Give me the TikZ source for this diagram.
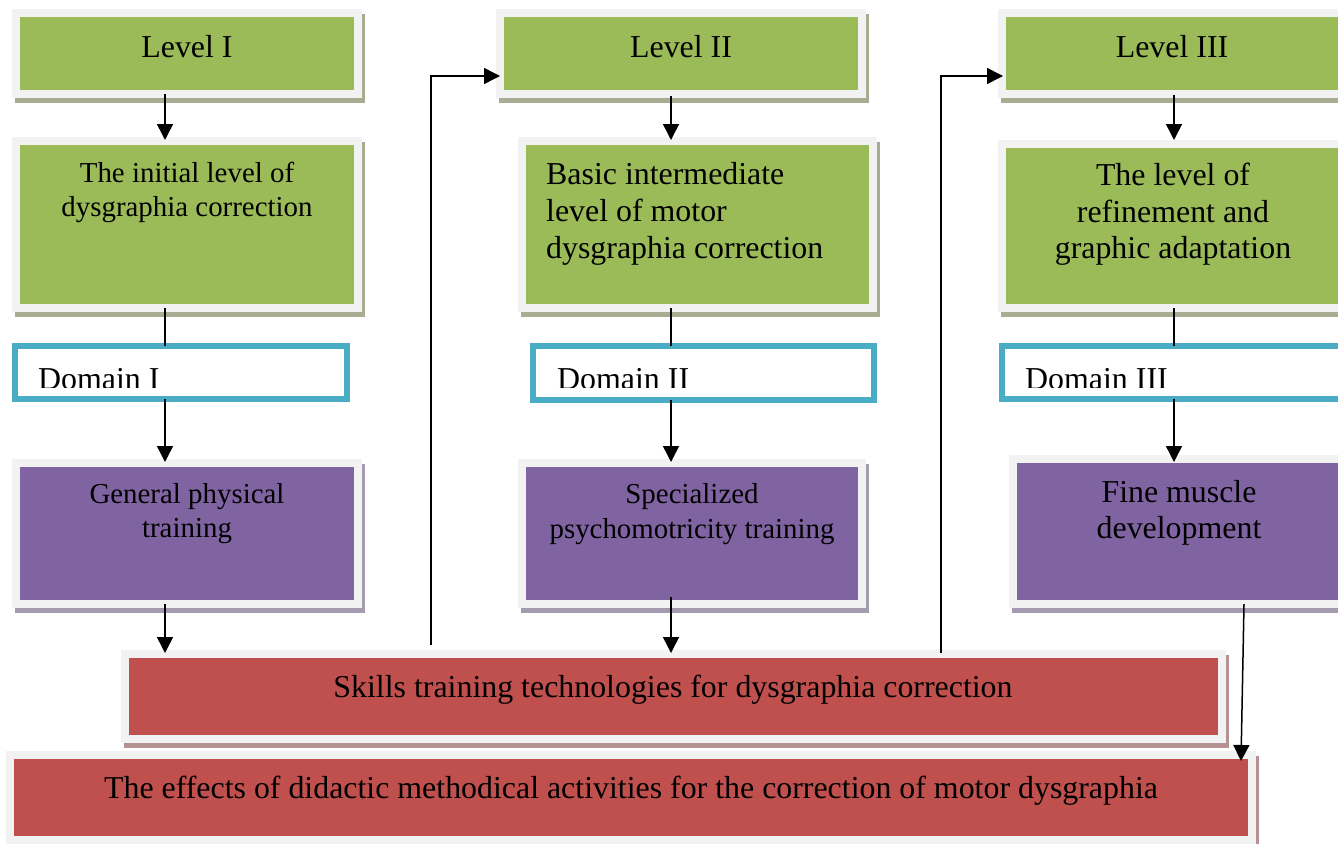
\documentclass[tikz,border=0pt]{standalone}
\usepackage{fontspec}
\setmainfont{Liberation Serif}
\usetikzlibrary{fit,arrows.meta}
\definecolor{gfill}{HTML}{9BBB59}
\definecolor{gshad}{HTML}{A6AD92}
\definecolor{pfill}{HTML}{8064A2}
\definecolor{pshad}{HTML}{A49BB0}
\definecolor{rfill}{HTML}{C0504D}
\definecolor{rshad}{HTML}{B59292}
\definecolor{cyanb}{HTML}{4BACC6}
\definecolor{framegray}{HTML}{F2F2F2}
\newcommand\mkbox[7]{%
  \fill[#7] (#2-5,#3-3) rectangle (#4+11,#5+13);
  \fill[framegray] (#2-8,#3-8) rectangle (#4+8,#5+8);
  \node[fit={(#2,#3) (#4,#5)}, inner sep=0pt, outer sep=0pt, fill=#6] (#1) {};
}
\tikzset{
  big/.style={inner sep=0pt, anchor=base, font=\fontsize{32}{37}\selectfont},
  small/.style={inner sep=0pt, anchor=base, font=\fontsize{29}{34}\selectfont},
  domtxt/.style={inner sep=0pt, anchor=base west, font=\fontsize{32}{37}\selectfont},
  dombox/.style={inner sep=0pt, outer sep=0pt, draw=cyanb, line width=6bp, fill=white},
  arr/.style={line width=1.5bp, -{Triangle[length=16bp,width=16bp]}},
  ln/.style={line width=1.5bp},
}
\begin{document}
\begin{tikzpicture}[x=1bp,y=-1bp]
\useasboundingbox (0,0) rectangle (1338,843);
\fill[white] (0,0) rectangle (1338,843);
% column x coordinates
\coordinate (c1) at (165,0);
\coordinate (c2) at (671,0);
\coordinate (c3) at (1174,0);
\coordinate (xa) at (431,0);
\coordinate (xb) at (941,0);
\coordinate (ya) at (0,76);
% level boxes
\mkbox{L1}{20}{17}{354}{90}{gfill}{gshad}
\mkbox{L2}{504}{17}{858}{90}{gfill}{gshad}
\mkbox{L3}{1006}{17}{1360}{90}{gfill}{gshad}
% second row
\mkbox{B1}{20}{145}{354}{304}{gfill}{gshad}
\mkbox{B2}{526}{145}{869}{304}{gfill}{gshad}
\mkbox{B3}{1006}{148}{1360}{304}{gfill}{gshad}
% domains
\node[dombox, fit={(15,346) (347,399)}] (D1) {};
\node[dombox, fit={(533,346) (874,400)}] (D2) {};
\node[dombox, fit={(1002,346) (1360,399)}] (D3) {};
% third row
\mkbox{P1}{20}{467}{354}{600}{pfill}{pshad}
\mkbox{P2}{526}{467}{858}{600}{pfill}{pshad}
\mkbox{P3}{1017}{463}{1360}{600}{pfill}{pshad}
% bottom boxes
\mkbox{S}{129}{658}{1218}{735}{rfill}{rshad}
\mkbox{E}{14}{759}{1248}{836}{rfill}{rshad}
% texts
\node[big] (t1) at (187,57) {Level I};
\node[big] (t2) at (681,57) {Level II};
\node[big] (t3) at (1172,57) {Level III};
\node[small] (b1a) at (187,182) {The initial level of};
\node[small] (b1b) at (187,216) {dysgraphia correction};
\node[big, anchor=base west] (b2a) at (546,184) {Basic intermediate};
\node[big, anchor=base west] (b2b) at (546,221) {level of motor};
\node[big, anchor=base west] (b2c) at (546,258) {dysgraphia correction};
\node[big] (b3a) at (1173,185) {The level of};
\node[big] (b3b) at (1173,222) {refinement and};
\node[big] (b3c) at (1173,258) {graphic adaptation};
\begin{scope}
\clip (12,343) rectangle (350,387);
\node[domtxt] (d1) at (38,389) {Domain I};
\end{scope}
\begin{scope}
\clip (530,343) rectangle (877,387);
\node[domtxt] (d2) at (557,389) {Domain II};
\end{scope}
\begin{scope}
\clip (999,343) rectangle (1338,387);
\node[domtxt] (d3) at (1025,389) {Domain III};
\end{scope}
\node[small] (p1a) at (187,503) {General physical};
\node[small] (p1b) at (187,537) {training};
\node[small] (p2a) at (692,503) {Specialized};
\node[small] (p2b) at (692,538) {psychomotricity training};
\node[big] (p3a) at (1179,502) {Fine muscle};
\node[big] (p3b) at (1179,538) {development};
\node[big] (st) at (673,697) {Skills training technologies for dysgraphia correction};
\node[big] (et) at (631,798) {The effects of didactic methodical activities for the correction of motor dysgraphia};
% connectors column 1
\draw[arr, shorten <=4bp, shorten >=5bp] (L1.south -| c1) -- (B1.north -| c1);
\draw[ln, shorten <=4bp] (B1.south -| c1) -- (D1.north -| c1);
\draw[arr, shorten >=5bp] (D1.south -| c1) -- (P1.north -| c1);
\draw[arr, shorten <=4bp, shorten >=5bp] (P1.south -| c1) -- (S.north -| c1);
% column 2
\draw[arr, shorten <=6bp, shorten >=5bp] (L2.south -| c2) -- (B2.north -| c2);
\draw[ln, shorten <=4bp] (B2.south -| c2) -- (D2.north -| c2);
\draw[arr, shorten >=5bp] (D2.south -| c2) -- (P2.north -| c2);
\draw[arr, shorten <=-3bp, shorten >=5bp] (P2.south -| c2) -- (S.north -| c2);
% column 3
\draw[arr, shorten <=5bp, shorten >=8bp] (L3.south -| c3) -- (B3.north -| c3);
\draw[ln, shorten <=4bp] (B3.south -| c3) -- (D3.north -| c3);
\draw[arr, shorten >=1bp] (D3.south -| c3) -- (P3.north -| c3);
\coordinate (fs) at (1244,604);
\coordinate (fe) at (1241,761);
\draw[arr] (fs) -- (fe);
% feedback connectors
\draw[arr, shorten <=13bp, shorten >=4bp] (S.north -| xa) -- (xa |- ya) -- (L2.west |- ya);
\draw[arr, shorten <=5bp, shorten >=3bp] (S.north -| xb) -- (xb |- ya) -- (L3.west |- ya);
\end{tikzpicture}
\end{document}
